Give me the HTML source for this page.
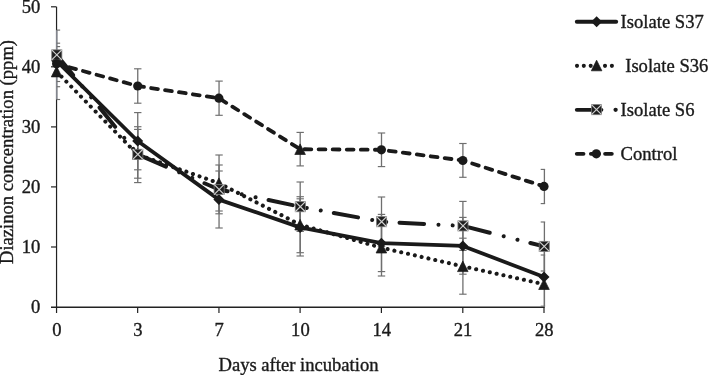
<!DOCTYPE html>
<html><head><meta charset="utf-8"><title>Diazinon degradation</title>
<style>
html,body{margin:0;padding:0;background:#fff;}
svg{display:block}
text{font-family:"Liberation Serif",serif;font-size:18.6px;fill:#1a1a1a;stroke:#1a1a1a;stroke-width:0.35px}
</style></head><body>
<svg width="708" height="375" viewBox="0 0 708 375">
<rect width="708" height="375" fill="#fff"/>

<g stroke="#222" stroke-width="1.2" fill="none">
<line x1="56.55" y1="6.8" x2="56.55" y2="313"/>
<line x1="51" y1="307.2" x2="544.6" y2="307.2" stroke-width="1.4"/>
<line x1="51" y1="6.8" x2="56.4" y2="6.8"/>
<line x1="51" y1="66.8" x2="56.4" y2="66.8"/>
<line x1="51" y1="126.9" x2="56.4" y2="126.9"/>
<line x1="51" y1="186.9" x2="56.4" y2="186.9"/>
<line x1="51" y1="247.0" x2="56.4" y2="247.0"/>
<line x1="137.65" y1="307" x2="137.65" y2="313"/>
<line x1="218.95" y1="307" x2="218.95" y2="313"/>
<line x1="300.1" y1="307" x2="300.1" y2="313"/>
<line x1="381.4" y1="307" x2="381.4" y2="313"/>
<line x1="462.8" y1="307" x2="462.8" y2="313"/>
<line x1="544.0" y1="307" x2="544.0" y2="313"/>
</g>
<g stroke="#6f6f6f" stroke-width="1.3" fill="none">
<line x1="137.75" y1="68.8" x2="137.75" y2="103.2"/>
<line x1="134.05" y1="68.8" x2="141.45" y2="68.8" stroke-width="1.15"/>
<line x1="134.05" y1="103.2" x2="141.45" y2="103.2" stroke-width="1.15"/>
<line x1="137.75" y1="112.6" x2="137.75" y2="169.8"/>
<line x1="134.05" y1="112.6" x2="141.45" y2="112.6" stroke-width="1.15"/>
<line x1="134.05" y1="169.8" x2="141.45" y2="169.8" stroke-width="1.15"/>
<line x1="137.75" y1="126.7" x2="137.75" y2="182.6"/>
<line x1="134.05" y1="126.7" x2="141.45" y2="126.7" stroke-width="1.15"/>
<line x1="134.05" y1="182.6" x2="141.45" y2="182.6" stroke-width="1.15"/>
<line x1="137.75" y1="129.4" x2="137.75" y2="178.2"/>
<line x1="134.05" y1="129.4" x2="141.45" y2="129.4" stroke-width="1.15"/>
<line x1="134.05" y1="178.2" x2="141.45" y2="178.2" stroke-width="1.15"/>
<line x1="219.05" y1="81.1" x2="219.05" y2="115.3"/>
<line x1="215.35" y1="81.1" x2="222.75" y2="81.1" stroke-width="1.15"/>
<line x1="215.35" y1="115.3" x2="222.75" y2="115.3" stroke-width="1.15"/>
<line x1="219.05" y1="155.0" x2="219.05" y2="211.0"/>
<line x1="215.35" y1="155.0" x2="222.75" y2="155.0" stroke-width="1.15"/>
<line x1="215.35" y1="211.0" x2="222.75" y2="211.0" stroke-width="1.15"/>
<line x1="219.05" y1="165.0" x2="219.05" y2="213.8"/>
<line x1="215.35" y1="165.0" x2="222.75" y2="165.0" stroke-width="1.15"/>
<line x1="215.35" y1="213.8" x2="222.75" y2="213.8" stroke-width="1.15"/>
<line x1="219.05" y1="171.0" x2="219.05" y2="228.0"/>
<line x1="215.35" y1="171.0" x2="222.75" y2="171.0" stroke-width="1.15"/>
<line x1="215.35" y1="228.0" x2="222.75" y2="228.0" stroke-width="1.15"/>
<line x1="300.20" y1="132.4" x2="300.20" y2="165.9"/>
<line x1="296.50" y1="132.4" x2="303.90" y2="132.4" stroke-width="1.15"/>
<line x1="296.50" y1="165.9" x2="303.90" y2="165.9" stroke-width="1.15"/>
<line x1="300.20" y1="182.0" x2="300.20" y2="231.4"/>
<line x1="296.50" y1="182.0" x2="303.90" y2="182.0" stroke-width="1.15"/>
<line x1="296.50" y1="231.4" x2="303.90" y2="231.4" stroke-width="1.15"/>
<line x1="300.20" y1="196.7" x2="300.20" y2="252.7"/>
<line x1="296.50" y1="196.7" x2="303.90" y2="196.7" stroke-width="1.15"/>
<line x1="296.50" y1="252.7" x2="303.90" y2="252.7" stroke-width="1.15"/>
<line x1="300.20" y1="198.8" x2="300.20" y2="256.0"/>
<line x1="296.50" y1="198.8" x2="303.90" y2="198.8" stroke-width="1.15"/>
<line x1="296.50" y1="256.0" x2="303.90" y2="256.0" stroke-width="1.15"/>
<line x1="381.50" y1="133.0" x2="381.50" y2="166.6"/>
<line x1="377.80" y1="133.0" x2="385.20" y2="133.0" stroke-width="1.15"/>
<line x1="377.80" y1="166.6" x2="385.20" y2="166.6" stroke-width="1.15"/>
<line x1="381.50" y1="197.0" x2="381.50" y2="246.4"/>
<line x1="377.80" y1="197.0" x2="385.20" y2="197.0" stroke-width="1.15"/>
<line x1="377.80" y1="246.4" x2="385.20" y2="246.4" stroke-width="1.15"/>
<line x1="381.50" y1="214.4" x2="381.50" y2="271.6"/>
<line x1="377.80" y1="214.4" x2="385.20" y2="214.4" stroke-width="1.15"/>
<line x1="377.80" y1="271.6" x2="385.20" y2="271.6" stroke-width="1.15"/>
<line x1="381.50" y1="219.4" x2="381.50" y2="276.0"/>
<line x1="377.80" y1="219.4" x2="385.20" y2="219.4" stroke-width="1.15"/>
<line x1="377.80" y1="276.0" x2="385.20" y2="276.0" stroke-width="1.15"/>
<line x1="462.90" y1="143.5" x2="462.90" y2="177.3"/>
<line x1="459.20" y1="143.5" x2="466.60" y2="143.5" stroke-width="1.15"/>
<line x1="459.20" y1="177.3" x2="466.60" y2="177.3" stroke-width="1.15"/>
<line x1="462.90" y1="201.4" x2="462.90" y2="250.4"/>
<line x1="459.20" y1="201.4" x2="466.60" y2="201.4" stroke-width="1.15"/>
<line x1="459.20" y1="250.4" x2="466.60" y2="250.4" stroke-width="1.15"/>
<line x1="462.90" y1="217.4" x2="462.90" y2="274.2"/>
<line x1="459.20" y1="217.4" x2="466.60" y2="217.4" stroke-width="1.15"/>
<line x1="459.20" y1="274.2" x2="466.60" y2="274.2" stroke-width="1.15"/>
<line x1="462.90" y1="238.2" x2="462.90" y2="294.2"/>
<line x1="459.20" y1="238.2" x2="466.60" y2="238.2" stroke-width="1.15"/>
<line x1="459.20" y1="294.2" x2="466.60" y2="294.2" stroke-width="1.15"/>
<line x1="544.40" y1="169.4" x2="544.40" y2="203.6"/>
<line x1="540.70" y1="169.4" x2="545.15" y2="169.4" stroke-width="1.15"/>
<line x1="540.70" y1="203.6" x2="545.15" y2="203.6" stroke-width="1.15"/>
<line x1="544.40" y1="222.0" x2="544.40" y2="271.0"/>
<line x1="540.70" y1="222.0" x2="545.15" y2="222.0" stroke-width="1.15"/>
<line x1="540.70" y1="271.0" x2="545.15" y2="271.0" stroke-width="1.15"/>
<line x1="544.40" y1="248.2" x2="544.40" y2="306.2"/>
<line x1="540.70" y1="248.2" x2="545.15" y2="248.2" stroke-width="1.15"/>
<line x1="540.70" y1="306.2" x2="545.15" y2="306.2" stroke-width="1.15"/>
<line x1="544.40" y1="255.0" x2="544.40" y2="306.6"/>
<line x1="540.70" y1="255.0" x2="545.15" y2="255.0" stroke-width="1.15"/>
<line x1="56.75" y1="30.1" x2="56.75" y2="99.5" stroke="#82858d" stroke-width="1.6"/>
<line x1="56.75" y1="30.1" x2="60.15" y2="30.1" stroke-width="1.15"/>
<line x1="56.75" y1="43.2" x2="60.15" y2="43.2" stroke-width="1.15"/>
<line x1="56.75" y1="46.6" x2="60.15" y2="46.6" stroke-width="1.15"/>
<line x1="56.75" y1="81.5" x2="60.15" y2="81.5" stroke-width="1.15"/>
<line x1="56.75" y1="86.7" x2="60.15" y2="86.7" stroke-width="1.15"/>
<line x1="56.75" y1="99.5" x2="60.15" y2="99.5" stroke-width="1.15"/>
</g>
<g fill="none" stroke="#1a1a1a" stroke-width="3.8" stroke-linecap="round" stroke-linejoin="round">
<polyline points="56.60,60.8 137.65,141.0 218.95,199.6 300.10,227.4 381.40,243.2 462.80,245.9 544.00,277.1"/>
<polyline points="56.60,71.6 137.65,154.6 218.95,183.2 300.10,224.7 381.40,247.7 462.80,266.3 544.00,284.2" stroke-width="4.1" stroke-dasharray="0.01 6.975"/>
<polyline points="56.60,54.9 137.65,154.3 218.95,189.5 300.10,206.7 381.40,221.7 462.80,225.9 544.00,246.4" stroke-width="4" stroke-dasharray="24.6 14.4 0.01 14.2 0.01 13.3" stroke-dashoffset="-1.5"/>
<polyline points="56.60,63.8 137.65,86.0 218.95,98.2 300.10,149.2 381.40,149.8 462.80,160.5 544.00,186.4" stroke-dasharray="6.8 7.27" stroke-dashoffset="0.8"/>
</g>
<path d="M51.1 60.8L56.6 55.3L62.1 60.8L56.6 66.3Z" fill="#1a1a1a"/>
<path d="M132.2 141.0L137.7 135.5L143.2 141.0L137.7 146.5Z" fill="#1a1a1a"/>
<path d="M213.4 199.6L218.9 194.1L224.4 199.6L218.9 205.1Z" fill="#1a1a1a"/>
<path d="M294.6 227.4L300.1 221.9L305.6 227.4L300.1 232.9Z" fill="#1a1a1a"/>
<path d="M375.9 243.2L381.4 237.7L386.9 243.2L381.4 248.7Z" fill="#1a1a1a"/>
<path d="M457.3 245.9L462.8 240.4L468.3 245.9L462.8 251.4Z" fill="#1a1a1a"/>
<path d="M538.5 277.1L544.0 271.6L549.5 277.1L544.0 282.6Z" fill="#1a1a1a"/>
<path d="M51.3 76.9L56.6 66.3L61.9 76.9Z" fill="#1a1a1a" stroke="#1a1a1a" stroke-width="0.7" stroke-linejoin="round"/>
<path d="M132.3 159.1L137.7 148.5L143.0 159.1Z" fill="#1a1a1a" stroke="#1a1a1a" stroke-width="0.7" stroke-linejoin="round"/>
<path d="M213.6 188.5L218.9 177.9L224.2 188.5Z" fill="#1a1a1a" stroke="#1a1a1a" stroke-width="0.7" stroke-linejoin="round"/>
<path d="M294.8 230.0L300.1 219.4L305.4 230.0Z" fill="#1a1a1a" stroke="#1a1a1a" stroke-width="0.7" stroke-linejoin="round"/>
<path d="M376.1 253.0L381.4 242.4L386.7 253.0Z" fill="#1a1a1a" stroke="#1a1a1a" stroke-width="0.7" stroke-linejoin="round"/>
<path d="M457.5 271.6L462.8 261.0L468.1 271.6Z" fill="#1a1a1a" stroke="#1a1a1a" stroke-width="0.7" stroke-linejoin="round"/>
<path d="M538.7 289.5L544.0 278.9L549.3 289.5Z" fill="#1a1a1a" stroke="#1a1a1a" stroke-width="0.7" stroke-linejoin="round"/>
<rect x="51.75" y="49.85" width="10.1" height="10.1" fill="#1f1f1f" stroke="#7a7a7a" stroke-width="0.8"/><path d="M51.75 49.85L61.85 59.95M61.85 49.85L51.75 59.95" stroke="#cfcfcf" stroke-width="1.2" fill="none"/>
<rect x="132.80" y="149.25" width="10.1" height="10.1" fill="#1f1f1f" stroke="#7a7a7a" stroke-width="0.8"/><path d="M132.80 149.25L142.90 159.35M142.90 149.25L132.80 159.35" stroke="#cfcfcf" stroke-width="1.2" fill="none"/>
<rect x="214.10" y="184.45" width="10.1" height="10.1" fill="#1f1f1f" stroke="#7a7a7a" stroke-width="0.8"/><path d="M214.10 184.45L224.20 194.55M224.20 184.45L214.10 194.55" stroke="#cfcfcf" stroke-width="1.2" fill="none"/>
<rect x="295.25" y="201.65" width="10.1" height="10.1" fill="#1f1f1f" stroke="#7a7a7a" stroke-width="0.8"/><path d="M295.25 201.65L305.35 211.75M305.35 201.65L295.25 211.75" stroke="#cfcfcf" stroke-width="1.2" fill="none"/>
<rect x="376.55" y="216.65" width="10.1" height="10.1" fill="#1f1f1f" stroke="#7a7a7a" stroke-width="0.8"/><path d="M376.55 216.65L386.65 226.75M386.65 216.65L376.55 226.75" stroke="#cfcfcf" stroke-width="1.2" fill="none"/>
<rect x="457.95" y="220.85" width="10.1" height="10.1" fill="#1f1f1f" stroke="#7a7a7a" stroke-width="0.8"/><path d="M457.95 220.85L468.05 230.95M468.05 220.85L457.95 230.95" stroke="#cfcfcf" stroke-width="1.2" fill="none"/>
<rect x="539.15" y="241.35" width="10.1" height="10.1" fill="#1f1f1f" stroke="#7a7a7a" stroke-width="0.8"/><path d="M539.15 241.35L549.25 251.45M549.25 241.35L539.15 251.45" stroke="#cfcfcf" stroke-width="1.2" fill="none"/>
<circle cx="56.6" cy="63.8" r="4.6" fill="#1a1a1a"/>
<circle cx="137.7" cy="86.0" r="4.6" fill="#1a1a1a"/>
<circle cx="218.9" cy="98.2" r="4.6" fill="#1a1a1a"/>
<path d="M294.8 154.5L300.1 143.9L305.4 154.5Z" fill="#1a1a1a" stroke="#1a1a1a" stroke-width="0.7" stroke-linejoin="round"/>
<circle cx="381.4" cy="149.8" r="4.6" fill="#1a1a1a"/>
<circle cx="462.8" cy="160.5" r="4.6" fill="#1a1a1a"/>
<circle cx="544.0" cy="186.4" r="4.6" fill="#1a1a1a"/>
<text x="40.3" y="12.9" text-anchor="end">50</text>
<text x="40.3" y="72.9" text-anchor="end">40</text>
<text x="40.3" y="133.0" text-anchor="end">30</text>
<text x="40.3" y="193.0" text-anchor="end">20</text>
<text x="40.3" y="253.1" text-anchor="end">10</text>
<text x="40.3" y="313.1" text-anchor="end">0</text>
<text x="56.9" y="336.1" text-anchor="middle">0</text>
<text x="138.0" y="336.1" text-anchor="middle">3</text>
<text x="219.2" y="336.1" text-anchor="middle">7</text>
<text x="300.4" y="336.1" text-anchor="middle">10</text>
<text x="381.7" y="336.1" text-anchor="middle">14</text>
<text x="463.1" y="336.1" text-anchor="middle">21</text>
<text x="544.3" y="336.1" text-anchor="middle">28</text>
<text x="298.5" y="370.5" text-anchor="middle">Days after incubation</text>
<text transform="translate(12.9,152) rotate(-90)" text-anchor="middle">Diazinon concentration (ppm)</text>
<g fill="none" stroke="#1a1a1a" stroke-width="3.9" stroke-linecap="round">
<line x1="576.8" y1="21.8" x2="616.2" y2="21.8"/>
<path d="M577 65.85h0.01M583.8 65.85h0.01M590.7 65.85h0.01M605 65.85h0.01M611.9 65.85h0.01" stroke-width="4.1"/>
<path d="M576.8 109.85H601.4"/><path d="M615.6 109.85h0.01" stroke-width="4.3"/>
<path d="M576.8 153.85H583.5M590.9 153.85H599M605.1 153.85H611.8"/>
</g>
<path d="M591.1 21.8L596.6 16.3L602.1 21.8L596.6 27.3Z" fill="#1a1a1a"/>
<path d="M591.3 70.8L596.6 60.2L601.9 70.8Z" fill="#1a1a1a" stroke="#1a1a1a" stroke-width="0.7" stroke-linejoin="round"/>
<rect x="591.45" y="104.60" width="10.1" height="10.1" fill="#1f1f1f" stroke="#7a7a7a" stroke-width="0.8"/><path d="M591.45 104.60L601.55 114.70M601.55 104.60L591.45 114.70" stroke="#cfcfcf" stroke-width="1.2" fill="none"/>
<circle cx="596.3" cy="153.8" r="4.6" fill="#1a1a1a"/>
<g style="font-size:18.8px">
<text x="620.6" y="27.8">Isolate S37</text>
<text x="625.2" y="71.6">Isolate S36</text>
<text x="620.6" y="116">Isolate S6</text>
<text x="620.6" y="159.5">Control</text>
</g>
</svg></body></html>
